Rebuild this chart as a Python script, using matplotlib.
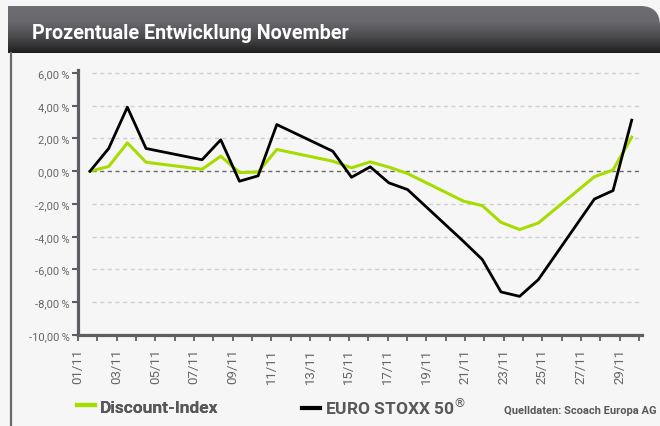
import numpy as np
import matplotlib.pyplot as plt
from matplotlib.path import Path
from matplotlib.patches import PathPatch
from matplotlib.lines import Line2D
from matplotlib.colors import LinearSegmentedColormap

# Handelstage im November (Tag des Monats)
tage = [1, 2, 3, 4, 7, 8, 9, 10, 11, 14, 15, 16, 17, 18, 21, 22, 23, 24, 25, 28, 29, 30]

# Prozentuale Entwicklung
discount = [0.00, 0.29, 1.73, 0.55, 0.12, 0.92, -0.08, -0.05, 1.33, 0.61, 0.21,
            0.57, 0.25, -0.14, -1.83, -2.10, -3.12, -3.56, -3.16, -0.34, 0.08, 2.08]
stoxx = [0.00, 1.39, 3.91, 1.39, 0.70, 1.92, -0.61, -0.28, 2.85, 1.22, -0.37,
         0.27, -0.71, -1.12, -4.29, -5.39, -7.37, -7.64, -6.62, -1.70, -1.18, 3.12]

# Achsenbeschriftungen
y_ticks = [-10, -8, -6, -4, -2, 0, 2, 4, 6]
x_labels = ["%02d/11" % t for t in range(1, 31, 2)]

titel = "Prozentuale Entwicklung November"
quelle = "Quelldaten: Scoach Europa AG"

fam = ["Roboto", "DejaVu Sans"]
plt.rcParams["font.family"] = fam

gruen = "#a6dc00"
grau = "#5e5e62"
bg = "#f6f6f6"

W, H = 660, 427
fig = plt.figure(figsize=(W / 100, H / 100), dpi=100, facecolor=bg)

# Kopfzeile mit Verlauf
hx0, hy0, hx1, hy1 = 8, 7, 660, 54
kopf = fig.add_axes([hx0 / W, 1 - hy1 / H, (hx1 - hx0) / W, (hy1 - hy0) / H])
kopf.set_xlim(0, 1)
kopf.set_ylim(0, 1)
kopf.axis("off")
verlauf = np.linspace(0, 1, 100).reshape(-1, 1)
cm = LinearSegmentedColormap.from_list("kopf", ["#1e1e1e", "#4a4a4d", "#69686c", "#6e6d71"])
img = kopf.imshow(verlauf, cmap=cm, aspect="auto", extent=(0, 1, 0, 1), origin="lower")
r = 0.03
verts = [(0, 0), (1, 0), (1, 1 - r * 14), (1, 1), (1 - r, 1), (0, 1), (0, 0)]
codes = [Path.MOVETO, Path.LINETO, Path.LINETO, Path.CURVE3, Path.CURVE3, Path.LINETO, Path.CLOSEPOLY]
clip = PathPatch(Path(verts, codes), transform=kopf.transAxes, facecolor="none", edgecolor="none")
kopf.add_patch(clip)
img.set_clip_path(clip)
kopf.text(24 / (hx1 - hx0), 0.44, titel, color="white", fontsize=14.2, fontweight="bold",
          va="center", ha="left")

# linke Rahmenlinie
fig.add_artist(Line2D([11 / W, 11 / W], [0, 1 - hy1 / H], color="#6a6a6e", lw=1.6))

# Diagramm
ax = fig.add_axes([78 / W, 1 - 336 / H, 564 / W, (336 - 70.7) / H])
ax.set_facecolor(bg)
x = np.array(tage) - 1
ax.set_xlim(-0.642, 29.55)
ax.set_ylim(-10, 6.2)

for v in y_ticks:
    if v == -10:
        continue
    farbe = "#6a6a6a" if v == 0 else "#cfcfcf"
    ax.axhline(v, xmin=0.025, xmax=0.9965, color=farbe, lw=1.0, ls=(0, (3, 2.5)), zorder=1)

ax.plot(x, discount, color=gruen, lw=2.2, zorder=3)
ax.plot(x, stoxx, color="black", lw=2.0, zorder=4)

for s in ["top", "right"]:
    ax.spines[s].set_visible(False)
for s in ["left", "bottom"]:
    ax.spines[s].set_color(grau)
    ax.spines[s].set_linewidth(2.3)

ax.set_yticks(y_ticks)
ax.set_yticklabels([("%.2f" % v).replace(".", ",") + "\u2009%" for v in y_ticks])
ax.tick_params(axis="y", length=4, width=1.5, color=grau, labelsize=8,
               labelcolor="#666666", pad=2)
ax.set_xticks([])

# Datumsachse (Tagesstriche)
ax2 = ax.twiny()
ax2.set_xlim(0, 29.15)
ax2.xaxis.set_ticks_position("bottom")
ax2.xaxis.set_label_position("bottom")
for s in ax2.spines.values():
    s.set_visible(False)
ax2.set_xticks(range(0, 30))
ax2.set_xticklabels([x_labels[i // 2] if i % 2 == 0 else "" for i in range(30)], rotation=90)
ax2.tick_params(axis="x", length=4.5, width=1.3, color=grau, labelsize=9.5,
                labelcolor="#666666", pad=5)

# Legende
h1 = [Line2D([], [], color=gruen, lw=3)]
h2 = [Line2D([], [], color="black", lw=3)]
leg_kw = dict(frameon=False, handlelength=1.05, handletextpad=0.3, loc="center left",
              prop={"weight": "bold", "size": 12.5}, labelcolor="#58585a")
l1 = fig.legend(h1, ["Discount-Index"], bbox_to_anchor=(61 / W, 1 - 408 / H), **leg_kw)
fig.add_artist(l1)
fig.legend(h2, ["EURO STOXX 50$^{\u00ae}$"], bbox_to_anchor=(286 / W, 1 - 408 / H), **leg_kw)

fig.text(657 / W, 1 - 411 / H, quelle, ha="right", va="center", fontsize=8,
         fontweight="bold", color="#58585a")

fig.savefig("out.png", dpi=100, facecolor=bg)
